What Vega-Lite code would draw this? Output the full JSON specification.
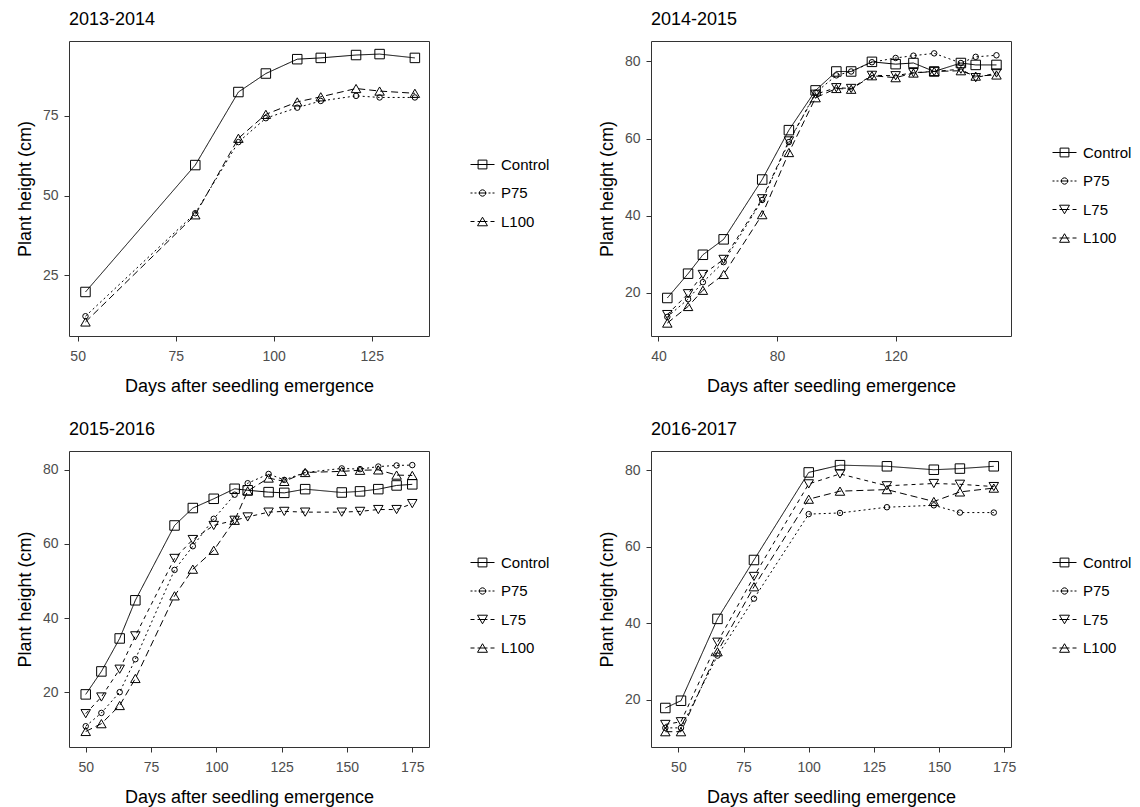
{
  "$schema": "https://vega.github.io/schema/vega-lite/v6.json",
  "background": "white",
  "padding": {"left": 15, "top": 10, "right": 0, "bottom": 0},
  "datasets": {
    "p1": [
      {"trt": "Control", "day": 52, "h": 19.8}, {"trt": "Control", "day": 80, "h": 59.6}, {"trt": "Control", "day": 91, "h": 82.5}, {"trt": "Control", "day": 98, "h": 88.3}, {"trt": "Control", "day": 106, "h": 92.8}, {"trt": "Control", "day": 112, "h": 93.2}, {"trt": "Control", "day": 121, "h": 94.1}, {"trt": "Control", "day": 127, "h": 94.4}, {"trt": "Control", "day": 136, "h": 93.2},
      {"trt": "P75", "day": 52, "h": 12.2}, {"trt": "P75", "day": 80, "h": 44.5}, {"trt": "P75", "day": 91, "h": 66.8}, {"trt": "P75", "day": 98, "h": 74.3}, {"trt": "P75", "day": 106, "h": 77.6}, {"trt": "P75", "day": 112, "h": 79.7}, {"trt": "P75", "day": 121, "h": 81.3}, {"trt": "P75", "day": 127, "h": 80.8}, {"trt": "P75", "day": 136, "h": 80.8},
      {"trt": "L100", "day": 52, "h": 10.4}, {"trt": "L100", "day": 80, "h": 44.0}, {"trt": "L100", "day": 91, "h": 68.0}, {"trt": "L100", "day": 98, "h": 75.5}, {"trt": "L100", "day": 106, "h": 79.4}, {"trt": "L100", "day": 112, "h": 81.0}, {"trt": "L100", "day": 121, "h": 83.6}, {"trt": "L100", "day": 127, "h": 82.8}, {"trt": "L100", "day": 136, "h": 82.1}
    ],
    "p2": [
      {"trt": "Control", "day": 43, "h": 18.7}, {"trt": "Control", "day": 50, "h": 25.0}, {"trt": "Control", "day": 55, "h": 29.9}, {"trt": "Control", "day": 62, "h": 33.9}, {"trt": "Control", "day": 75, "h": 49.4}, {"trt": "Control", "day": 84, "h": 62.2}, {"trt": "Control", "day": 93, "h": 72.5}, {"trt": "Control", "day": 100, "h": 77.4}, {"trt": "Control", "day": 105, "h": 77.4}, {"trt": "Control", "day": 112, "h": 79.9}, {"trt": "Control", "day": 120, "h": 79.3}, {"trt": "Control", "day": 126, "h": 79.6}, {"trt": "Control", "day": 133, "h": 77.4}, {"trt": "Control", "day": 142, "h": 79.6}, {"trt": "Control", "day": 147, "h": 79.1}, {"trt": "Control", "day": 154, "h": 79.1},
      {"trt": "P75", "day": 43, "h": 13.8}, {"trt": "P75", "day": 50, "h": 18.4}, {"trt": "P75", "day": 55, "h": 22.8}, {"trt": "P75", "day": 62, "h": 28.0}, {"trt": "P75", "day": 75, "h": 44.1}, {"trt": "P75", "day": 84, "h": 59.1}, {"trt": "P75", "day": 93, "h": 71.9}, {"trt": "P75", "day": 100, "h": 76.4}, {"trt": "P75", "day": 105, "h": 77.4}, {"trt": "P75", "day": 112, "h": 79.8}, {"trt": "P75", "day": 120, "h": 80.9}, {"trt": "P75", "day": 126, "h": 81.5}, {"trt": "P75", "day": 133, "h": 82.1}, {"trt": "P75", "day": 142, "h": 79.6}, {"trt": "P75", "day": 147, "h": 81.2}, {"trt": "P75", "day": 154, "h": 81.6},
      {"trt": "L75", "day": 43, "h": 14.4}, {"trt": "L75", "day": 50, "h": 19.8}, {"trt": "L75", "day": 55, "h": 24.8}, {"trt": "L75", "day": 62, "h": 28.7}, {"trt": "L75", "day": 75, "h": 44.4}, {"trt": "L75", "day": 84, "h": 59.4}, {"trt": "L75", "day": 93, "h": 71.5}, {"trt": "L75", "day": 100, "h": 73.2}, {"trt": "L75", "day": 105, "h": 73.0}, {"trt": "L75", "day": 112, "h": 76.4}, {"trt": "L75", "day": 120, "h": 76.3}, {"trt": "L75", "day": 126, "h": 77.1}, {"trt": "L75", "day": 133, "h": 77.4}, {"trt": "L75", "day": 142, "h": 78.0}, {"trt": "L75", "day": 147, "h": 75.8}, {"trt": "L75", "day": 154, "h": 77.0},
      {"trt": "L100", "day": 43, "h": 12.2}, {"trt": "L100", "day": 50, "h": 16.5}, {"trt": "L100", "day": 55, "h": 20.7}, {"trt": "L100", "day": 62, "h": 24.8}, {"trt": "L100", "day": 75, "h": 40.3}, {"trt": "L100", "day": 84, "h": 56.4}, {"trt": "L100", "day": 93, "h": 70.6}, {"trt": "L100", "day": 100, "h": 73.0}, {"trt": "L100", "day": 105, "h": 72.8}, {"trt": "L100", "day": 112, "h": 76.3}, {"trt": "L100", "day": 120, "h": 75.8}, {"trt": "L100", "day": 126, "h": 77.0}, {"trt": "L100", "day": 133, "h": 77.4}, {"trt": "L100", "day": 142, "h": 77.6}, {"trt": "L100", "day": 147, "h": 76.2}, {"trt": "L100", "day": 154, "h": 76.5}
    ],
    "p3": [
      {"trt": "Control", "day": 50, "h": 19.4}, {"trt": "Control", "day": 56, "h": 25.6}, {"trt": "Control", "day": 63, "h": 34.5}, {"trt": "Control", "day": 69, "h": 44.8}, {"trt": "Control", "day": 84, "h": 65.0}, {"trt": "Control", "day": 91, "h": 69.7}, {"trt": "Control", "day": 99, "h": 72.2}, {"trt": "Control", "day": 107, "h": 74.9}, {"trt": "Control", "day": 112, "h": 74.5}, {"trt": "Control", "day": 120, "h": 74.0}, {"trt": "Control", "day": 126, "h": 73.8}, {"trt": "Control", "day": 134, "h": 74.8}, {"trt": "Control", "day": 148, "h": 73.9}, {"trt": "Control", "day": 155, "h": 74.2}, {"trt": "Control", "day": 162, "h": 74.8}, {"trt": "Control", "day": 169, "h": 75.8}, {"trt": "Control", "day": 175, "h": 76.1},
      {"trt": "P75", "day": 50, "h": 10.8}, {"trt": "P75", "day": 56, "h": 14.4}, {"trt": "P75", "day": 63, "h": 20.0}, {"trt": "P75", "day": 69, "h": 28.9}, {"trt": "P75", "day": 84, "h": 53.0}, {"trt": "P75", "day": 91, "h": 59.4}, {"trt": "P75", "day": 99, "h": 66.8}, {"trt": "P75", "day": 107, "h": 73.3}, {"trt": "P75", "day": 112, "h": 76.4}, {"trt": "P75", "day": 120, "h": 78.9}, {"trt": "P75", "day": 126, "h": 77.3}, {"trt": "P75", "day": 134, "h": 79.3}, {"trt": "P75", "day": 148, "h": 80.4}, {"trt": "P75", "day": 155, "h": 80.2}, {"trt": "P75", "day": 162, "h": 80.9}, {"trt": "P75", "day": 169, "h": 81.2}, {"trt": "P75", "day": 175, "h": 81.3},
      {"trt": "L75", "day": 50, "h": 14.2}, {"trt": "L75", "day": 56, "h": 18.7}, {"trt": "L75", "day": 63, "h": 26.2}, {"trt": "L75", "day": 69, "h": 35.2}, {"trt": "L75", "day": 84, "h": 56.1}, {"trt": "L75", "day": 91, "h": 61.2}, {"trt": "L75", "day": 99, "h": 65.0}, {"trt": "L75", "day": 107, "h": 66.4}, {"trt": "L75", "day": 112, "h": 67.3}, {"trt": "L75", "day": 120, "h": 68.6}, {"trt": "L75", "day": 126, "h": 68.8}, {"trt": "L75", "day": 134, "h": 68.6}, {"trt": "L75", "day": 148, "h": 68.6}, {"trt": "L75", "day": 155, "h": 68.8}, {"trt": "L75", "day": 162, "h": 69.3}, {"trt": "L75", "day": 169, "h": 69.3}, {"trt": "L75", "day": 175, "h": 70.9},
      {"trt": "L100", "day": 50, "h": 9.4}, {"trt": "L100", "day": 56, "h": 11.5}, {"trt": "L100", "day": 63, "h": 16.4}, {"trt": "L100", "day": 69, "h": 23.7}, {"trt": "L100", "day": 84, "h": 46.0}, {"trt": "L100", "day": 91, "h": 53.2}, {"trt": "L100", "day": 99, "h": 58.3}, {"trt": "L100", "day": 107, "h": 66.4}, {"trt": "L100", "day": 112, "h": 74.3}, {"trt": "L100", "day": 120, "h": 77.8}, {"trt": "L100", "day": 126, "h": 76.9}, {"trt": "L100", "day": 134, "h": 79.3}, {"trt": "L100", "day": 148, "h": 79.6}, {"trt": "L100", "day": 155, "h": 79.9}, {"trt": "L100", "day": 162, "h": 80.0}, {"trt": "L100", "day": 169, "h": 78.6}, {"trt": "L100", "day": 175, "h": 78.5}
    ],
    "p4": [
      {"trt": "Control", "day": 45, "h": 17.8}, {"trt": "Control", "day": 51, "h": 19.7}, {"trt": "Control", "day": 65, "h": 41.1}, {"trt": "Control", "day": 79, "h": 56.5}, {"trt": "Control", "day": 100, "h": 79.4}, {"trt": "Control", "day": 112, "h": 81.3}, {"trt": "Control", "day": 130, "h": 81.0}, {"trt": "Control", "day": 148, "h": 80.1}, {"trt": "Control", "day": 158, "h": 80.4}, {"trt": "Control", "day": 171, "h": 81.0},
      {"trt": "P75", "day": 45, "h": 12.6}, {"trt": "P75", "day": 51, "h": 12.6}, {"trt": "P75", "day": 65, "h": 31.5}, {"trt": "P75", "day": 79, "h": 46.4}, {"trt": "P75", "day": 100, "h": 68.5}, {"trt": "P75", "day": 112, "h": 68.8}, {"trt": "P75", "day": 130, "h": 70.3}, {"trt": "P75", "day": 148, "h": 70.8}, {"trt": "P75", "day": 158, "h": 68.9}, {"trt": "P75", "day": 171, "h": 68.9},
      {"trt": "L75", "day": 45, "h": 13.5}, {"trt": "L75", "day": 51, "h": 14.2}, {"trt": "L75", "day": 65, "h": 35.0}, {"trt": "L75", "day": 79, "h": 52.2}, {"trt": "L75", "day": 100, "h": 76.4}, {"trt": "L75", "day": 112, "h": 79.0}, {"trt": "L75", "day": 130, "h": 75.9}, {"trt": "L75", "day": 148, "h": 76.5}, {"trt": "L75", "day": 158, "h": 76.3}, {"trt": "L75", "day": 171, "h": 75.7},
      {"trt": "L100", "day": 45, "h": 11.6}, {"trt": "L100", "day": 51, "h": 11.6}, {"trt": "L100", "day": 65, "h": 32.5}, {"trt": "L100", "day": 79, "h": 49.5}, {"trt": "L100", "day": 100, "h": 72.4}, {"trt": "L100", "day": 112, "h": 74.5}, {"trt": "L100", "day": 130, "h": 74.9}, {"trt": "L100", "day": 148, "h": 71.8}, {"trt": "L100", "day": 158, "h": 74.3}, {"trt": "L100", "day": 171, "h": 75.3}
    ]
  },
  "config": {
    "font": "Liberation Sans",
    "view": {"stroke": "#333333", "strokeWidth": 1},
    "axis": {"grid": false, "domain": false, "tickColor": "#333333", "tickSize": 5, "labelColor": "#4d4d4d", "labelFontSize": 14, "labelFont": "Liberation Sans", "titleFont": "Liberation Sans", "titleFontSize": 18, "titleFontWeight": "normal", "titleColor": "black"},
    "axisX": {"labelPadding": 8, "titlePadding": 14},
    "axisY": {"labelPadding": 6, "titlePadding": 8},
    "title": {"anchor": "start", "frame": "group", "fontSize": 18, "fontWeight": "normal", "font": "Liberation Sans", "color": "black", "offset": 12},
    "legend": {"padding": 0, "orient": "none", "legendX": 405, "symbolSize": 256, "labelOffset": 10, "labelFontSize": 15, "labelColor": "black", "labelFont": "Liberation Sans", "rowPadding": 11.5, "symbolStrokeColor": "black", "symbolStrokeWidth": 1, "symbolFillColor": "transparent", "symbolOpacity": 1}
  },
  "columns": 2,
  "spacing": {"row": 115, "column": 222},
  "bounds": "flush",
  "resolve": {"scale": {"x": "independent", "y": "independent", "shape": "independent", "strokeDash": "independent"}, "legend": {"shape": "independent"}},
  "concat": [
    {
      "width": 360, "height": 295, "title": "2013-2014",
      "data": {"name": "p1"},
      "resolve": {"scale": {"shape": "independent"}, "legend": {"shape": "independent"}},
      "encoding": {
        "x": {"field": "day", "type": "quantitative", "scale": {"domain": [47.8, 139.6], "nice": false, "zero": false}, "axis": {"values": [50, 75, 100, 125], "title": "Days after seedling emergence"}},
        "y": {"field": "h", "type": "quantitative", "scale": {"domain": [6.0, 98.5], "nice": false, "zero": false}, "axis": {"values": [25, 50, 75], "title": "Plant height (cm)"}}
      },
      "layer": [
        {"mark": {"type": "line", "color": "black", "strokeWidth": 1},
         "encoding": {"strokeDash": {"field": "trt", "type": "nominal", "scale": {"domain": ["L100", "P75", "Control"], "range": [[7, 4], [2, 3], [1, 0]]}, "legend": null}}},
        {"mark": {"type": "point", "filled": false, "color": "black", "opacity": 0, "size": 4},
         "encoding": {"shape": {"field": "trt", "type": "nominal", "scale": {"domain": ["Control", "P75", "L100"], "range": ["M-1.5,0H1.5M-0.55,-0.55H0.55V0.55H-0.55Z", "M-1.5,0H-1.25M-1.0,0H-0.75M-0.5,0H0.5M0.75,0H1.0M1.25,0H1.5M0.4,0L0.346,0.2L0.2,0.346L0,0.4L-0.2,0.346L-0.346,0.2L-0.4,0L-0.346,-0.2L-0.2,-0.346L0,-0.4L0.2,-0.346L0.346,-0.2Z", "M-1.5,0H-1.0M-0.62,0H0.62M1.0,0H1.5M0,-0.537L-0.62,0.537L0.62,0.537Z"]},
           "legend": {"title": null, "legendY": 115, "symbolOpacity": 1}}}},
        {"transform": [{"filter": "datum.trt != 'P75'"}],
         "mark": {"type": "point", "filled": false, "color": "black", "strokeWidth": 1, "opacity": 1, "size": 90},
         "encoding": {"shape": {"field": "trt", "type": "nominal", "scale": {"domain": ["Control", "L100"], "range": ["square", "triangle-up"]}, "legend": null}}},
        {"transform": [{"filter": "datum.trt == 'P75'"}],
         "mark": {"type": "point", "filled": false, "color": "black", "strokeWidth": 1, "opacity": 1, "size": 30, "shape": "circle"},
         "encoding": {}}
      ]
    },
    {
      "width": 360, "height": 295, "title": "2014-2015",
      "data": {"name": "p2"},
      "resolve": {"scale": {"shape": "independent"}, "legend": {"shape": "independent"}},
      "encoding": {
        "x": {"field": "day", "type": "quantitative", "scale": {"domain": [37.5, 158.9], "nice": false, "zero": false}, "axis": {"values": [40, 80, 120], "title": "Days after seedling emergence"}},
        "y": {"field": "h", "type": "quantitative", "scale": {"domain": [8.85, 85.3], "nice": false, "zero": false}, "axis": {"values": [20, 40, 60, 80], "title": "Plant height (cm)"}}
      },
      "layer": [
        {"mark": {"type": "line", "color": "black", "strokeWidth": 1},
         "encoding": {"strokeDash": {"field": "trt", "type": "nominal", "scale": {"domain": ["L100", "L75", "P75", "Control"], "range": [[7, 4], [4, 4], [2, 3], [1, 0]]}, "legend": null}}},
        {"mark": {"type": "point", "filled": false, "color": "black", "opacity": 0, "size": 4},
         "encoding": {"shape": {"field": "trt", "type": "nominal", "scale": {"domain": ["Control", "P75", "L75", "L100"], "range": ["M-1.5,0H1.5M-0.55,-0.55H0.55V0.55H-0.55Z", "M-1.5,0H-1.25M-1.0,0H-0.75M-0.5,0H0.5M0.75,0H1.0M1.25,0H1.5M0.4,0L0.346,0.2L0.2,0.346L0,0.4L-0.2,0.346L-0.346,0.2L-0.4,0L-0.346,-0.2L-0.2,-0.346L0,-0.4L0.2,-0.346L0.346,-0.2Z", "M-1.5,0H-1.0M-0.62,0H0.62M1.0,0H1.5M0,0.537L-0.62,-0.537L0.62,-0.537Z", "M-1.5,0H-1.0M-0.62,0H0.62M1.0,0H1.5M0,-0.537L-0.62,0.537L0.62,0.537Z"]},
           "legend": {"title": null, "legendY": 103, "symbolOpacity": 1}}}},
        {"transform": [{"filter": "datum.trt != 'P75'"}],
         "mark": {"type": "point", "filled": false, "color": "black", "strokeWidth": 1, "opacity": 1, "size": 90},
         "encoding": {"shape": {"field": "trt", "type": "nominal", "scale": {"domain": ["Control", "L75", "L100"], "range": ["square", "triangle-down", "triangle-up"]}, "legend": null}}},
        {"transform": [{"filter": "datum.trt == 'P75'"}],
         "mark": {"type": "point", "filled": false, "color": "black", "strokeWidth": 1, "opacity": 1, "size": 30, "shape": "circle"},
         "encoding": {}}
      ]
    },
    {
      "width": 360, "height": 296, "title": "2015-2016",
      "data": {"name": "p3"},
      "resolve": {"scale": {"shape": "independent"}, "legend": {"shape": "independent"}},
      "encoding": {
        "x": {"field": "day", "type": "quantitative", "scale": {"domain": [43.6, 181.4], "nice": false, "zero": false}, "axis": {"values": [50, 75, 100, 125, 150, 175], "title": "Days after seedling emergence"}},
        "y": {"field": "h", "type": "quantitative", "scale": {"domain": [5.2, 85.1], "nice": false, "zero": false}, "axis": {"values": [20, 40, 60, 80], "title": "Plant height (cm)"}}
      },
      "layer": [
        {"mark": {"type": "line", "color": "black", "strokeWidth": 1},
         "encoding": {"strokeDash": {"field": "trt", "type": "nominal", "scale": {"domain": ["L100", "L75", "P75", "Control"], "range": [[7, 4], [4, 4], [2, 3], [1, 0]]}, "legend": null}}},
        {"mark": {"type": "point", "filled": false, "color": "black", "opacity": 0, "size": 4},
         "encoding": {"shape": {"field": "trt", "type": "nominal", "scale": {"domain": ["Control", "P75", "L75", "L100"], "range": ["M-1.5,0H1.5M-0.55,-0.55H0.55V0.55H-0.55Z", "M-1.5,0H-1.25M-1.0,0H-0.75M-0.5,0H0.5M0.75,0H1.0M1.25,0H1.5M0.4,0L0.346,0.2L0.2,0.346L0,0.4L-0.2,0.346L-0.346,0.2L-0.4,0L-0.346,-0.2L-0.2,-0.346L0,-0.4L0.2,-0.346L0.346,-0.2Z", "M-1.5,0H-1.0M-0.62,0H0.62M1.0,0H1.5M0,0.537L-0.62,-0.537L0.62,-0.537Z", "M-1.5,0H-1.0M-0.62,0H0.62M1.0,0H1.5M0,-0.537L-0.62,0.537L0.62,0.537Z"]},
           "legend": {"title": null, "legendY": 103, "symbolOpacity": 1}}}},
        {"transform": [{"filter": "datum.trt != 'P75'"}],
         "mark": {"type": "point", "filled": false, "color": "black", "strokeWidth": 1, "opacity": 1, "size": 90},
         "encoding": {"shape": {"field": "trt", "type": "nominal", "scale": {"domain": ["Control", "L75", "L100"], "range": ["square", "triangle-down", "triangle-up"]}, "legend": null}}},
        {"transform": [{"filter": "datum.trt == 'P75'"}],
         "mark": {"type": "point", "filled": false, "color": "black", "strokeWidth": 1, "opacity": 1, "size": 30, "shape": "circle"},
         "encoding": {}}
      ]
    },
    {
      "width": 360, "height": 296, "title": "2016-2017",
      "data": {"name": "p4"},
      "resolve": {"scale": {"shape": "independent"}, "legend": {"shape": "independent"}},
      "encoding": {
        "x": {"field": "day", "type": "quantitative", "scale": {"domain": [39.5, 177.6], "nice": false, "zero": false}, "axis": {"values": [50, 75, 100, 125, 150, 175], "title": "Days after seedling emergence"}},
        "y": {"field": "h", "type": "quantitative", "scale": {"domain": [7.6, 85.0], "nice": false, "zero": false}, "axis": {"values": [20, 40, 60, 80], "title": "Plant height (cm)"}}
      },
      "layer": [
        {"mark": {"type": "line", "color": "black", "strokeWidth": 1},
         "encoding": {"strokeDash": {"field": "trt", "type": "nominal", "scale": {"domain": ["L100", "L75", "P75", "Control"], "range": [[7, 4], [4, 4], [2, 3], [1, 0]]}, "legend": null}}},
        {"mark": {"type": "point", "filled": false, "color": "black", "opacity": 0, "size": 4},
         "encoding": {"shape": {"field": "trt", "type": "nominal", "scale": {"domain": ["Control", "P75", "L75", "L100"], "range": ["M-1.5,0H1.5M-0.55,-0.55H0.55V0.55H-0.55Z", "M-1.5,0H-1.25M-1.0,0H-0.75M-0.5,0H0.5M0.75,0H1.0M1.25,0H1.5M0.4,0L0.346,0.2L0.2,0.346L0,0.4L-0.2,0.346L-0.346,0.2L-0.4,0L-0.346,-0.2L-0.2,-0.346L0,-0.4L0.2,-0.346L0.346,-0.2Z", "M-1.5,0H-1.0M-0.62,0H0.62M1.0,0H1.5M0,0.537L-0.62,-0.537L0.62,-0.537Z", "M-1.5,0H-1.0M-0.62,0H0.62M1.0,0H1.5M0,-0.537L-0.62,0.537L0.62,0.537Z"]},
           "legend": {"title": null, "legendY": 103, "symbolOpacity": 1}}}},
        {"transform": [{"filter": "datum.trt != 'P75'"}],
         "mark": {"type": "point", "filled": false, "color": "black", "strokeWidth": 1, "opacity": 1, "size": 90},
         "encoding": {"shape": {"field": "trt", "type": "nominal", "scale": {"domain": ["Control", "L75", "L100"], "range": ["square", "triangle-down", "triangle-up"]}, "legend": null}}},
        {"transform": [{"filter": "datum.trt == 'P75'"}],
         "mark": {"type": "point", "filled": false, "color": "black", "strokeWidth": 1, "opacity": 1, "size": 30, "shape": "circle"},
         "encoding": {}}
      ]
    }
  ]
}
